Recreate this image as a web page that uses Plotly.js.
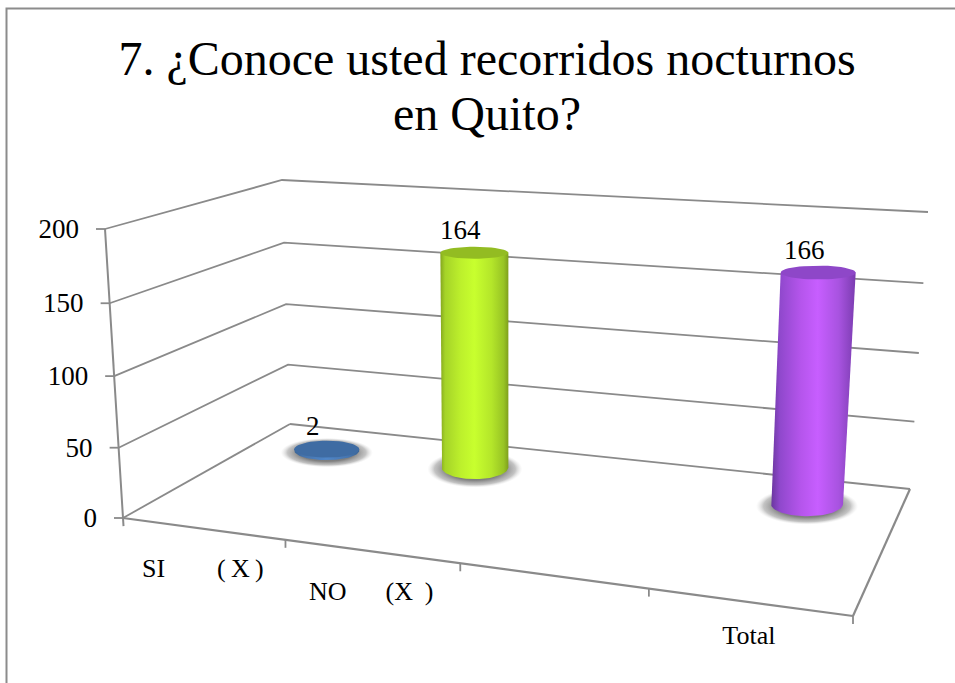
<!DOCTYPE html>
<html>
<head>
<meta charset="utf-8">
<script src="https://cdn.plot.ly/plotly-3.0.1.min.js"></script>
<style>html,body{margin:0;padding:0;background:#fff}#chart{width:955px;height:683px}</style>
</head>
<body>
<div id="chart"></div>
<script>
// ---- data ----
const categories = ['SI\u00A0\u00A0\u00A0\u00A0\u00A0\u00A0\u00A0\u00A0(\u2009X\u2009)', 'NO\u00A0\u00A0\u00A0\u00A0\u00A0\u00A0(X\u00A0\u2009)', '', 'Total'];
const values = [2, 164, null, 166];
const valueTicks = [0, 50, 100, 150, 200];
const titleLines = ['7. ¿Conoce usted recorridos nocturnos', 'en Quito?'];

// ---- style ----
const gridColor = '#8a8a8a';
const textColor = '#000000';
const labelFont = 'Liberation Serif, serif';
const bodyScales = [
  [[0,'#3b6596'],[0.15,'#4674ad'],[0.5,'#4f86c8'],[0.85,'#4674ad'],[1,'#3b6596']],
  [[0,'#84a61e'],[0.07,'#a5d328'],[0.3,'#bdf02c'],[0.5,'#c8ff2e'],[0.75,'#b4e62a'],[0.93,'#98c424'],[1,'#7f9f1c']],
  null,
  [[0,'#6a379f'],[0.1,'#8f48cc'],[0.35,'#b555ec'],[0.55,'#c75eff'],[0.8,'#a853e0'],[1,'#7a3cb0']]
];
const topColors = ['#3f6ca3', '#93bc22', null, '#8e47c8'];
const rxBase = [32.5, 33.5, null, 36];
const rxTop = [32.5, 34, null, 37.5];
const ryBase = [9.5, 12, null, 12];
const ryTop = [8.5, 6, null, 7];
const topDrop = 1;
const catLabelOffset = [42, 42, 0, 35];

// ---- box projection (screen axes are the plot's own x / y) ----
const depth = 0.8;
const A = 0.2147, B = -0.0353, K = 0.037;
const floorFL = [123,518], floorFR = [853,616], floorBL = [290,424], floorBR = [910,489];
const topFL = [105,229], topFR = [868,290], topBL = [282,180], topBR = [928,212];
const maxVal = valueTicks[valueTicks.length - 1];
const lerp = (p, q, t) => [p[0] + (q[0]-p[0])*t, p[1] + (q[1]-p[1])*t];
function project(c, v, w) {
  const t = A*c/(1 + B*c);
  const s = w/maxVal;
  const low = lerp(lerp(floorFL, floorFR, t), lerp(floorBL, floorBR, t), v);
  const high = lerp(lerp(topFL, topFR, t), lerp(topBL, topBR, t), v);
  return lerp(low, high, s/(1 + K*(1-s)));
}
const traces = [];
function line(pts, width, color) {
  traces.push({type:'scatter', mode:'lines', x:pts.map(p=>p[0]), y:pts.map(p=>p[1]),
    line:{color:color||gridColor, width:width}, hoverinfo:'skip', showlegend:false});
}
function poly(pts, extra) {
  traces.push(Object.assign({type:'scatter', mode:'lines', x:pts.map(p=>p[0]), y:pts.map(p=>p[1]),
    fill:'toself', line:{width:0, color:'rgba(0,0,0,0)'}, hoverinfo:'skip', showlegend:false}, extra));
}
function ellipse(cx, cy, rx, ry, from, to) {
  const out = [];
  for (let i = 0; i <= 48; i++) {
    const a = from + (to-from)*i/48;
    out.push([cx + rx*Math.cos(a), cy + ry*Math.sin(a)]);
  }
  return out;
}
function text(x, y, s, pos, size) {
  traces.push({type:'scatter', mode:'text', x:[x], y:[y], text:[s], textposition:pos,
    textfont:{family:labelFont, size:size, color:textColor}, hoverinfo:'skip', showlegend:false});
}

// walls and floor
valueTicks.forEach(w => {
  if (w > 0) line([project(0,0,w), project(0,1,w), project(4,1,w)], 1.8);
});
line([project(0,1,0), project(4,1,0)], 1.8);
line([project(0,0,0), project(0,1,0)], 1.8);
line([project(4,0,0), project(4,1,0)], 2.2);
line([project(0,0,0), project(4,0,0)], 2.2);
line([project(0,0,maxVal), project(0,0,0), lerp(project(0,0,0), project(0,0,maxVal), -0.028)], 2);
// value axis ticks and labels
valueTicks.forEach(w => {
  const p = project(0,0,w);
  line([[p[0]-9, p[1]], p], 1.8);
  text(p[0]-26, p[1]+2.5, String(w), 'middle left', 27);
});
// category ticks and labels
categories.forEach((cat, i) => {
  const e = project(i+1, 0, 0);
  line([e, [e[0], e[1]+8]], 1.8);
  if (cat) {
    const m = project(i+0.5, 0, 0);
    text(m[0], m[1]+catLabelOffset[i], cat, 'middle center', 26);
  }
});
// cylinders
values.forEach((val, i) => {
  if (val === null) return;
  const b = project(i+0.5, depth, 0);
  const tp = project(i+0.5, depth, val);
  tp[1] += topDrop;
  const rb = rxBase[i], rt = rxTop[i];
  poly(ellipse(b[0], b[1]+2, rb*1.42, ryBase[i]*1.55, 0, 2*Math.PI),
    {fillgradient:{type:'radial', colorscale:[[0,'rgba(110,110,110,1)'],[0.6,'rgba(128,128,128,1)'],[0.85,'rgba(170,170,170,0.7)'],[1,'rgba(220,220,220,0)']]}});
  const body = [[tp[0]-rt, tp[1]]].concat(
    ellipse(b[0], b[1], rb, ryBase[i], Math.PI, 0),
    [[tp[0]+rt, tp[1]]]);
  poly(body, {fillgradient:{type:'horizontal', colorscale:bodyScales[i]}});
  poly(ellipse(tp[0], tp[1], rt, ryTop[i], 0, 2*Math.PI), {fillcolor:topColors[i]});
  text(tp[0]-14, tp[1]-20.5, String(val), 'middle center', 27);
});

const layout = {
  width:955, height:683, margin:{l:0,r:0,t:0,b:0},
  paper_bgcolor:'#ffffff', plot_bgcolor:'#ffffff', showlegend:false,
  xaxis:{range:[0,955], visible:false, fixedrange:true},
  yaxis:{range:[683,0], visible:false, fixedrange:true},
  title:{
    text:titleLines.map(s=>'<span style="font-size:48px">'+s+'</span>').join('<br>'),
    font:{family:'Liberation Serif, serif', size:42, color:textColor},
    x:487/955, xanchor:'center', y:1-75/683, yanchor:'top', automargin:false
  },
  shapes:[{type:'path', path:'M6.5,683 L6.5,8.5 L955,8.5', line:{color:'#8c8c8c', width:2}, xref:'x', yref:'y', layer:'above'}]
};
Plotly.newPlot('chart', traces, layout, {displayModeBar:false, staticPlot:true});
</script>
</body>
</html>
